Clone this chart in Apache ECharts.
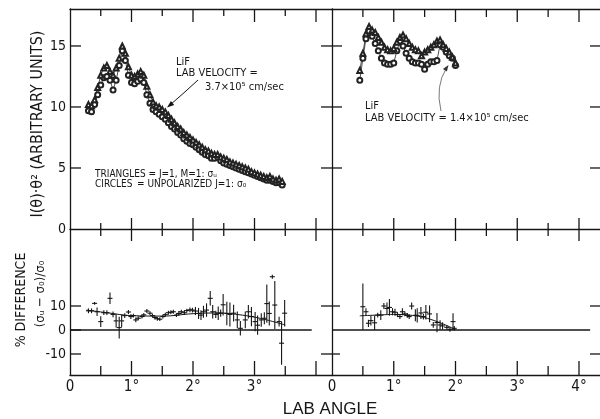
<!DOCTYPE html>
<html>
<head>
<meta charset="utf-8">
<title>LiF scattering</title>
<script src="https://cdn.jsdelivr.net/npm/echarts@6/dist/echarts.min.js"></script>
<style>
  body { margin: 0; background: #fff; }
  #main { width: 600px; height: 419px; }
</style>
</head>
<body>
<div id="main"></div>
<script>
// upper panels: I(theta)*theta^2, lab velocity 3.7e5 cm/sec (left) and 1.4e5 cm/sec (right)
var angleFast = [0.30, 0.35, 0.40, 0.45, 0.50, 0.55, 0.60, 0.65, 0.70, 0.75,
  0.80, 0.85, 0.90, 0.95, 1.00, 1.05, 1.10, 1.15, 1.20, 1.25,
  1.30, 1.35, 1.40, 1.45, 1.50, 1.55, 1.60, 1.65, 1.70, 1.75,
  1.80, 1.85, 1.90, 1.95, 2.00, 2.05, 2.10, 2.15, 2.20, 2.25,
  2.30, 2.35, 2.40, 2.45, 2.50, 2.55, 2.60, 2.65, 2.70, 2.75,
  2.80, 2.85, 2.90, 2.95, 3.00, 3.05, 3.10, 3.15, 3.20, 3.25,
  3.30, 3.35, 3.40, 3.45];
var circlesFast = [9.7, 9.6, 10.2, 11.0, 11.8, 12.4, 12.5, 12.2, 11.4, 12.2,
  13.4, 14.6, 13.8, 12.6, 12.0, 11.9, 12.1, 12.3, 12.0, 11.0,
  10.3, 9.8, 9.6, 9.4, 9.2, 9.0, 8.7, 8.4, 8.2, 7.9,
  7.7, 7.4, 7.2, 7.0, 6.9, 6.7, 6.5, 6.3, 6.1, 6.0,
  5.8, 5.8, 5.9, 5.6, 5.4, 5.3, 5.2, 5.1, 5.0, 4.9,
  4.8, 4.7, 4.6, 4.5, 4.4, 4.3, 4.2, 4.1, 4.0, 4.0,
  3.9, 3.8, 3.8, 3.6];
var trianglesFast = [10.2, 10.1, 10.6, 11.6, 12.6, 13.2, 13.4, 12.9, 12.6, 13.2,
  14.0, 15.0, 14.4, 13.3, 12.6, 12.5, 12.7, 12.9, 12.6, 11.7,
  11.0, 10.4, 10.1, 10.0, 9.8, 9.6, 9.3, 9.0, 8.7, 8.4,
  8.2, 7.9, 7.7, 7.5, 7.3, 7.1, 6.9, 6.7, 6.5, 6.4,
  6.2, 6.1, 6.1, 5.9, 5.8, 5.7, 5.5, 5.4, 5.3, 5.2,
  5.1, 5.0, 4.9, 4.7, 4.6, 4.5, 4.4, 4.3, 4.2, 4.3,
  4.1, 4.0, 4.1, 3.9];

var angleSlow = [0.45, 0.50, 0.55, 0.60, 0.65, 0.70, 0.75, 0.80, 0.85, 0.90,
  0.95, 1.00, 1.05, 1.10, 1.15, 1.20, 1.25, 1.30, 1.35, 1.40,
  1.45, 1.50, 1.55, 1.60, 1.65, 1.70, 1.75, 1.80, 1.85, 1.90,
  1.95, 2.00];
var circlesSlow = [12.2, 14.0, 15.6, 16.2, 15.8, 15.2, 14.6, 14.0, 13.6, 13.5,
  13.5, 13.6, 14.6, 15.4, 15.0, 14.4, 14.0, 13.7, 13.6, 13.6,
  13.5, 13.1, 13.5, 13.7, 13.7, 13.8, 15.1, 14.9, 14.5, 14.2,
  14.0, 13.4];
var trianglesSlow = [13.0, 14.4, 16.0, 16.6, 16.3, 16.1, 15.7, 15.3, 14.9, 14.7,
  14.6, 14.8, 15.3, 15.7, 15.9, 15.6, 15.2, 14.9, 14.7, 14.6,
  14.2, 14.5, 14.7, 14.9, 15.1, 15.4, 15.5, 15.1, 14.8, 14.5,
  14.1, 13.6];

// lower panels: % difference [angle, value, error]
var diffFast = [
  [0.30, 8.0, 1.0], [0.35, 8.0, 1.0], [0.40, 11.1, 0.6], [0.44, 7.6, 1.8], [0.50, 3.5, 2.2],
  [0.55, 7.2, 1.0], [0.60, 7.2, 1.0], [0.65, 13.2, 2.4], [0.70, 6.5, 1.2], [0.75, 3.8, 2.8],
  [0.80, 1.0, 4.5], [0.84, 3.8, 2.6], [0.89, 6.0, 1.0], [0.95, 7.5, 0.8], [0.99, 5.6, 1.0],
  [1.03, 6.0, 0.8], [1.07, 4.2, 1.0], [1.11, 4.9, 0.8], [1.17, 5.6, 0.8], [1.20, 6.3, 0.8],
  [1.25, 7.9, 0.8], [1.30, 7.0, 0.8], [1.34, 6.0, 0.8], [1.38, 5.2, 0.8], [1.42, 4.7, 0.8],
  [1.46, 4.5, 0.8], [1.51, 5.6, 0.8], [1.55, 6.4, 0.8], [1.60, 7.2, 0.8], [1.64, 7.4, 0.8],
  [1.68, 7.6, 0.8], [1.73, 6.2, 0.8], [1.77, 6.9, 1.0], [1.81, 7.6, 0.8], [1.86, 7.2, 1.0],
  [1.90, 8.1, 0.8], [1.95, 8.4, 1.0], [1.99, 8.3, 1.0], [2.04, 7.9, 1.7], [2.09, 6.9, 2.3],
  [2.13, 6.2, 2.0], [2.17, 7.6, 2.5], [2.22, 8.3, 2.8], [2.28, 13.2, 3.0], [2.32, 7.6, 2.8],
  [2.37, 6.5, 1.5], [2.41, 7.0, 2.8], [2.45, 7.0, 1.5], [2.49, 10.5, 4.5], [2.55, 6.9, 4.9],
  [2.60, 6.5, 5.0], [2.66, 7.0, 3.5], [2.72, 4.2, 3.5], [2.77, 0.7, 3.0], [2.85, 4.2, 3.5],
  [2.90, 7.6, 2.8], [2.95, 5.6, 4.0], [3.01, 3.5, 4.0], [3.05, 2.0, 4.0], [3.11, 4.2, 2.8],
  [3.16, 4.9, 2.5], [3.20, 11.0, 8.0], [3.24, 6.9, 5.0], [3.29, 22.2, 0.8], [3.33, 10.4, 10.0],
  [3.40, 3.5, 2.0], [3.44, -5.5, 9.0], [3.49, 7.0, 5.5]
];
var diffSlow = [
  [0.50, 9.7, 9.7], [0.55, 7.6, 1.5], [0.59, 2.8, 1.5], [0.63, 3.9, 2.0], [0.69, 3.0, 3.0],
  [0.74, 6.2, 1.0], [0.79, 6.2, 2.0], [0.84, 10.0, 1.2], [0.89, 9.0, 2.5], [0.93, 9.4, 3.5],
  [0.98, 7.6, 1.5], [1.02, 7.4, 1.5], [1.06, 6.4, 1.0], [1.10, 5.6, 1.0], [1.14, 7.6, 1.5],
  [1.18, 6.7, 1.0], [1.22, 6.1, 1.0], [1.25, 5.6, 1.0], [1.29, 10.0, 1.5], [1.35, 6.1, 2.5],
  [1.38, 6.1, 3.0], [1.44, 7.1, 2.5], [1.48, 5.6, 1.2], [1.52, 7.4, 3.0], [1.58, 6.7, 3.5],
  [1.64, 2.1, 1.2], [1.70, 3.1, 4.0], [1.75, 2.1, 2.0], [1.79, 1.7, 1.5], [1.86, 1.1, 1.0],
  [1.91, 0.3, 1.0], [1.96, 3.5, 3.5], [1.98, 0.7, 1.0]
];
// hand drawn trend curves through the differences
var fitFast = [[0.27, 8.3], [0.6, 7.2], [1.0, 6.0], [1.5, 5.8], [2.0, 6.8], [2.4, 7.1], [2.8, 6.2], [3.1, 4.8], [3.5, 2.1]];
var fitSlow = [[0.45, 5.9], [0.8, 6.3], [1.0, 6.5], [1.2, 6.3], [1.4, 5.7], [1.6, 4.4], [1.8, 2.5], [2.0, 0.2]];
var zeroFast = [0, 3.93];
var zeroSlow = [0, 4.18];

// ticks and labels
var topTicks = [5, 10, 15];
var topLabels = [0, 5, 10, 15];
var diffTicks = [-10, 0, 10];
var diffTicksSlow = [-10, 10];
var majorDeg = [1, 2, 3, 4];
var minorDeg = [0.5, 1.5, 2.5, 3.5];
var labelDegFast = [0, 1, 2, 3];
var labelDegSlow = [0, 1, 2, 3, 4];

// axis extents (panel sizes are fixed in the figure)
var FAST_MAX = 4.26, SLOW_MAX = 4.34;
var TOP_MAX = 18.03;
var DIFF_MIN = -18.75, DIFF_MAX = 42.08;

var INK = '#161616';
var NARROW = '"Liberation Sans Narrow", "DejaVu Sans Condensed", sans-serif';

function pairs(xs, ys) {
  return xs.map(function (x, i) { return [x, ys[i]]; });
}
function atY(vals, y) { return vals.map(function (v) { return [v, y]; }); }
function atX(vals, x) { return vals.map(function (v) { return [x, v]; }); }

function axisBase(grid, pos, min, max) {
  return {
    type: 'value', gridIndex: grid, position: pos, min: min, max: max,
    axisLine: { show: true, onZero: false, lineStyle: { color: INK, width: 1.3 } },
    axisTick: { show: false },
    axisLabel: { show: false },
    splitLine: { show: false }
  };
}
function degAxis(grid, max, labels) {
  var a = axisBase(grid, 'bottom', 0, max);
  a.axisLabel = {
    show: true, customValues: labels, margin: 5, color: INK,
    fontFamily: NARROW, fontSize: 15,
    formatter: function (v) { return v === 0 ? '0' : v + '°'; }
  };
  return a;
}
function valAxis(grid, min, max, labels) {
  var a = axisBase(grid, 'left', min, max);
  if (labels) {
    a.axisLabel = { show: true, customValues: labels, margin: 4, color: INK, fontFamily: NARROW, fontSize: 14 };
  }
  return a;
}

function renderErr(params, api) {
  var x = api.value(0), y = api.value(1), e = api.value(2);
  var hi = api.coord([x, y + e]);
  var lo = api.coord([x, y - e]);
  var mid = api.coord([x, y]);
  var st = { stroke: INK, lineWidth: 1.1 };
  return {
    type: 'group',
    children: [
      { type: 'line', shape: { x1: hi[0], y1: hi[1], x2: lo[0], y2: lo[1] }, style: st },
      { type: 'line', shape: { x1: mid[0] - 2.5, y1: mid[1], x2: mid[0] + 2.5, y2: mid[1] }, style: st }
    ]
  };
}

function dataLine(xi, yi, data, symbol) {
  return {
    type: 'line', xAxisIndex: xi, yAxisIndex: yi, data: data,
    symbol: symbol, symbolSize: 5,
    lineStyle: { color: '#222', width: 0.8 },
    itemStyle: { color: '#222', borderColor: '#222', borderWidth: 0.8 },
    silent: true
  };
}

function plainLine(xi, yi, data, smooth, width) {
  return {
    type: 'line', xAxisIndex: xi, yAxisIndex: yi, data: data, smooth: smooth,
    symbol: 'none', lineStyle: { color: INK, width: width }, silent: true
  };
}

function errSeries(xi, yi, data) {
  return {
    type: 'custom', xAxisIndex: xi, yAxisIndex: yi, data: data,
    renderItem: renderErr, encode: { x: 0, y: 1 }, silent: true
  };
}

function txt(x, y, text, size, opts) {
  opts = opts || {};
  return {
    type: 'text', x: x, y: y, silent: true, rotation: opts.rotation || 0,
    style: {
      text: text, fill: INK, font: size + 'px ' + (opts.family || NARROW),
      align: opts.align || 'left', verticalAlign: 'middle'
    }
  };
}

var chart = echarts.init(document.getElementById('main'));

var option = {
  animation: false,
  backgroundColor: '#ffffff',
  grid: [
    { left: 70, top: 9, width: 262, height: 220 },
    { left: 332, top: 9, width: 268, height: 220 },
    { left: 70, top: 229, width: 262, height: 146 },
    { left: 332, top: 229, width: 268, height: 146 }
  ],
  xAxis: [
    axisBase(0, 'bottom', 0, FAST_MAX),
    axisBase(0, 'top', 0, FAST_MAX),
    axisBase(1, 'bottom', 0, SLOW_MAX),
    axisBase(1, 'top', 0, SLOW_MAX),
    degAxis(2, FAST_MAX, labelDegFast),
    degAxis(3, SLOW_MAX, labelDegSlow)
  ],
  yAxis: [
    valAxis(0, 0, TOP_MAX, topLabels),
    valAxis(1, 0, TOP_MAX),
    valAxis(2, DIFF_MIN, DIFF_MAX, diffTicks),
    valAxis(3, DIFF_MIN, DIFF_MAX)
  ],
  series: [
    dataLine(0, 0, pairs(angleFast, circlesFast), 'emptyCircle'),
    dataLine(0, 0, pairs(angleFast, trianglesFast), 'emptyTriangle'),
    dataLine(2, 1, pairs(angleSlow, circlesSlow), 'emptyCircle'),
    dataLine(2, 1, pairs(angleSlow, trianglesSlow), 'emptyTriangle'),
    plainLine(4, 2, [[zeroFast[0], 0], [zeroFast[1], 0]], false, 1.6),
    plainLine(4, 2, fitFast, 0.4, 1),
    errSeries(4, 2, diffFast),
    plainLine(5, 3, [[zeroSlow[0], 0], [zeroSlow[1], 0]], false, 1.6),
    plainLine(5, 3, fitSlow, 0.4, 1),
    errSeries(5, 3, diffSlow)
  ]
};

chart.setOption(option);

// tick marks: placed through the axes' own scales, seg = [dx1, dy1, dx2, dy2] in px
function tickEls(xi, yi, points, seg) {
  return points.map(function (pt) {
    var p = chart.convertToPixel({ xAxisIndex: xi, yAxisIndex: yi }, pt);
    return {
      type: 'line', silent: true,
      shape: { x1: p[0] + seg[0], y1: p[1] + seg[1], x2: p[0] + seg[2], y2: p[1] + seg[3] },
      style: { stroke: INK, lineWidth: 1.3 }
    };
  });
}

var tickMarks = [].concat(
  // top left
  tickEls(0, 0, atY(majorDeg, TOP_MAX), [0, 0, 0, 13]),
  tickEls(0, 0, atY(minorDeg, TOP_MAX), [0, 0, 0, 7]),
  tickEls(0, 0, atY(majorDeg, 0), [0, -11, 0, 12]),
  tickEls(0, 0, atY(minorDeg, 0), [0, -6, 0, 7]),
  tickEls(0, 0, atX(topTicks, 0), [0, 0, 11, 0]),
  // top right
  tickEls(2, 1, atY(majorDeg, TOP_MAX), [0, 0, 0, 13]),
  tickEls(2, 1, atY(minorDeg, TOP_MAX), [0, 0, 0, 8]),
  tickEls(2, 1, atY(majorDeg, 0), [0, -11, 0, 12]),
  tickEls(2, 1, atY(minorDeg, 0), [0, -6, 0, 7]),
  tickEls(2, 1, atX(topTicks, 0), [-11, 0, 10, 0]),
  tickEls(2, 1, atX(topTicks, SLOW_MAX), [-10, 0, 0, 0]),
  // bottom left
  tickEls(4, 2, atY(majorDeg, DIFF_MIN), [0, -14, 0, 0]),
  tickEls(4, 2, atY(minorDeg, DIFF_MIN), [0, -9, 0, 0]),
  tickEls(4, 2, atX(diffTicks, 0), [0, 0, 11, 0]),
  // bottom right
  tickEls(5, 3, atY(majorDeg, DIFF_MIN), [0, -14, 0, 0]),
  tickEls(5, 3, atY(minorDeg, DIFF_MIN), [0, -9, 0, 0]),
  tickEls(5, 3, atX(diffTicksSlow, 0), [-11, 0, 8, 0]),
  tickEls(5, 3, atX(diffTicksSlow, SLOW_MAX), [-10, 0, 0, 0])
);

var labels = [
  // axis titles
  txt(38, 124, 'I(θ)·θ² (ARBITRARY UNITS)', 16, { rotation: Math.PI / 2, align: 'center' }),
  txt(21, 300, '% DIFFERENCE', 14, { rotation: Math.PI / 2, align: 'center' }),
  txt(41, 294, '(σᵤ − σ₀)/σ₀', 13, { rotation: Math.PI / 2, align: 'center' }),
  txt(330, 409, 'LAB ANGLE', 17, { align: 'center', family: '"Liberation Sans", sans-serif' }),
  // fast beam annotation
  txt(176, 62, 'LiF', 11),
  txt(176, 73, 'LAB VELOCITY =', 11),
  txt(205, 87, '3.7×10⁵ cm/sec', 11),
  txt(95, 174, 'TRIANGLES = J=1, M=1: σᵤ', 10),
  txt(95, 184, 'CIRCLES', 10),
  txt(137, 184, '= UNPOLARIZED J=1: σ₀', 10),
  // slow beam annotation
  txt(365, 106, 'LiF', 11),
  txt(365, 118, 'LAB VELOCITY = 1.4×10⁵ cm/sec', 11),
  // arrows
  {
    type: 'bezierCurve', silent: true,
    shape: { x1: 198, y1: 80, cpx1: 184, cpy1: 93, x2: 170, y2: 105 },
    style: { stroke: INK, lineWidth: 1, fill: null }
  },
  {
    type: 'polygon', silent: true,
    shape: { points: [[167, 107.5], [174.2, 104.9], [170.9, 101.1]] },
    style: { fill: INK }
  },
  {
    type: 'bezierCurve', silent: true,
    shape: { x1: 441, y1: 111, cpx1: 435, cpy1: 86, x2: 446.5, y2: 68 },
    style: { stroke: '#555', lineWidth: 0.8, fill: null }
  },
  {
    type: 'polygon', silent: true,
    shape: { points: [[448.5, 65], [446.9, 71.4], [442.9, 69]] },
    style: { fill: '#333' }
  }
];

chart.setOption({ graphic: labels.concat(tickMarks) });
</script>
</body>
</html>
